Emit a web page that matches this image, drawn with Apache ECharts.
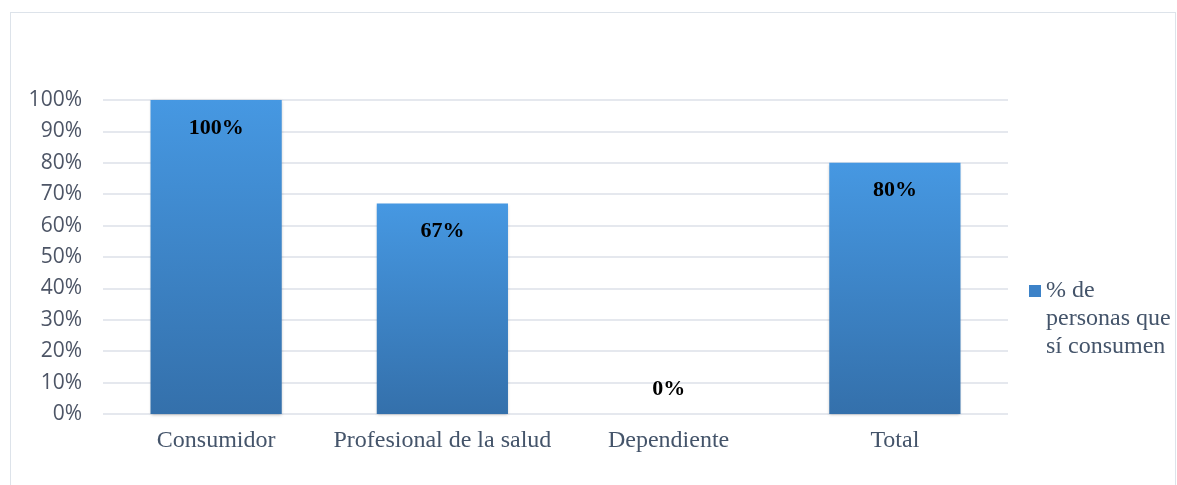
<!DOCTYPE html>
<html><head><meta charset="utf-8">
<script src="https://cdn.jsdelivr.net/npm/echarts@6/dist/echarts.min.js"></script>
<style>html,body{margin:0;padding:0;background:#fff}#frame{position:absolute;left:10px;top:12px;width:1166px;height:480px;border:1px solid #dde3ea;box-sizing:border-box}#c{position:absolute;left:0;top:0;width:1177px;height:485px}</style>
</head><body><div id="frame"></div><div id="c"></div>
<script>
const categories = ['Consumidor', 'Profesional de la salud', 'Dependiente', 'Total'];
const values = [100, 67, 0, 80];
const seriesName = '% de\npersonas que\nsí consumen';
const yTicks = [0, 10, 20, 30, 40, 50, 60, 70, 80, 90, 100];

const chart = echarts.init(document.getElementById('c'));
chart.setOption({
  animation: false,
  grid: {left: 103, right: 169, top: 100, bottom: 71, containLabel: false},
  legend: {
    show: true, left: 1029, top: 221, orient: 'vertical', padding: 0,
    itemWidth: 12, itemHeight: 12, itemGap: 4,
    icon: 'rect',
    formatter: n => '\n\n' + n,
    textStyle: {fontFamily: 'Liberation Serif', fontSize: 24, color: '#44546a', lineHeight: 28},
    data: [{name: seriesName, itemStyle: {color: '#3c82c8'}}]
  },
  xAxis: {
    type: 'category', data: categories,
    axisLine: {show: false}, axisTick: {show: false},
    axisLabel: {interval: 0, fontFamily: 'Liberation Serif', fontSize: 24, color: '#44546a', margin: 15}
  },
  yAxis: {
    type: 'value', min: 0, max: 100, interval: 10,
    axisLine: {show: false}, axisTick: {show: false},
    splitLine: {lineStyle: {color: '#dde1e8', width: 1.5}},
    axisLabel: {fontFamily: 'Open Sans', fontSize: 21, color: '#4d5566', margin: 21,
      formatter: v => yTicks.includes(v) ? v + '%' : ''}
  },
  series: [{
    name: seriesName, type: 'bar',
    data: values.map(v => v === 0 ? {value: v, label: {position: 'top', distance: 14}} : v),
    barWidth: '58%',
    itemStyle: {
      color: new echarts.graphic.LinearGradient(0, 0, 0, 1, [
        {offset: 0, color: '#4698e2'}, {offset: 1, color: '#3470ab'}
      ]),
      shadowColor: 'rgba(0,0,0,0.25)', shadowBlur: 3, shadowOffsetY: 1
    },
    label: {
      show: true, position: 'insideTop', distance: 17,
      formatter: p => p.value + '%',
      fontFamily: 'Liberation Serif', fontWeight: 'bold', fontSize: 22, color: '#000'
    }
  }]
});
</script></body></html>
